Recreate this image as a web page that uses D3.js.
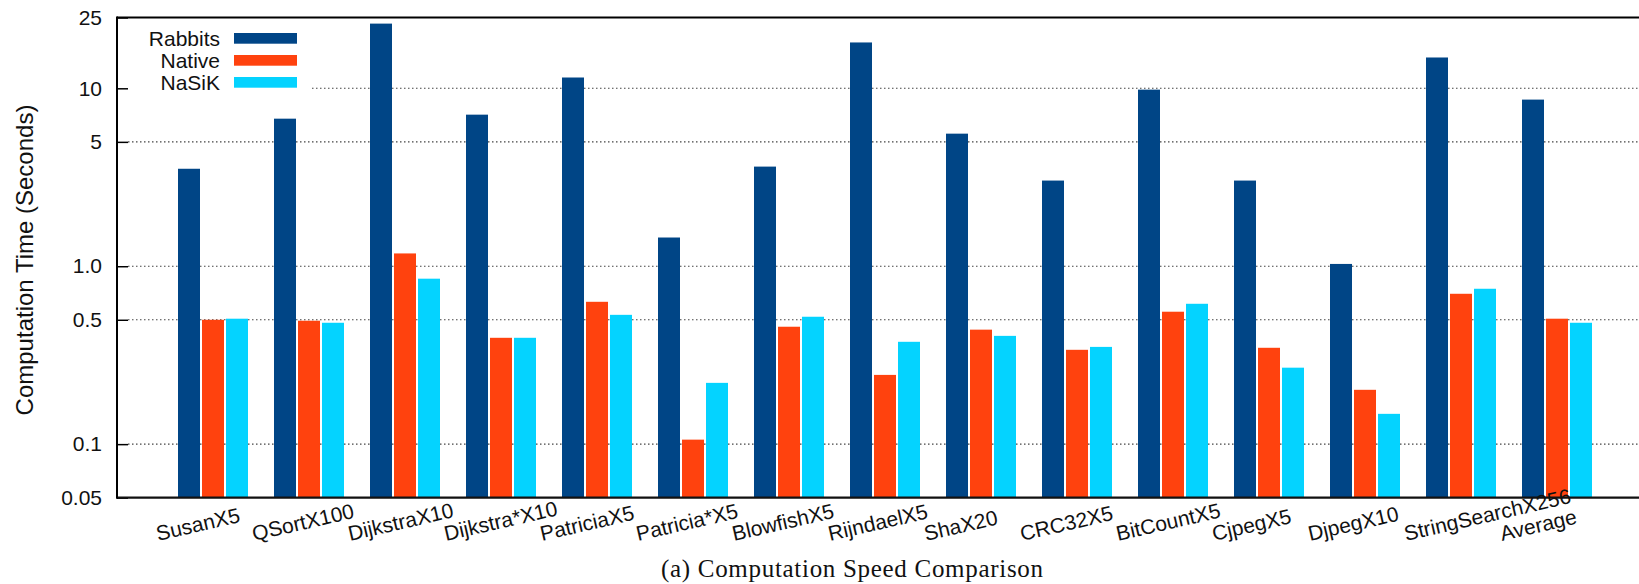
<!DOCTYPE html>
<html>
<head>
<meta charset="utf-8">
<script src="https://cdn.jsdelivr.net/npm/d3@7"></script>
<style>
  html, body { margin: 0; padding: 0; background: #fff; }
  svg { display: block; }
</style>
</head>
<body>
<svg id="chart" width="1639" height="584"></svg>
<script>
const categories = ["SusanX5", "QSortX100", "DijkstraX10", "Dijkstra*X10", "PatriciaX5", "Patricia*X5",
  "BlowfishX5", "RijndaelX5", "ShaX20", "CRC32X5", "BitCountX5", "CjpegX5", "DjpegX10",
  "StringSearchX256", "Average"];
const seriesNames = ["Rabbits", "Native", "NaSiK"];
const rabbits = [3.53, 6.75, 23.1, 7.11, 11.5, 1.45, 3.63, 18.1, 5.56, 3.03, 9.83, 3.03, 1.03, 14.9, 8.64];
const native  = [0.50, 0.494, 1.18, 0.396, 0.631, 0.106, 0.457, 0.245, 0.44, 0.339, 0.555, 0.348, 0.202, 0.70, 0.507];
const nasik   = [0.507, 0.481, 0.851, 0.396, 0.533, 0.221, 0.52, 0.376, 0.406, 0.352, 0.615, 0.269, 0.148, 0.747, 0.481];
const tickValues = [0.05, 0.1, 0.5, 1, 5, 10, 25];
const tickLabels = ["0.05", "0.1", "0.5", "1.0", "5", "10", "25"];
const gridValues = [0.1, 0.5, 1, 5, 10];
const colors = ["#004586", "#ff420e", "#04d3ff"];
const yTitle = "Computation Time (Seconds)";
const caption = "(a)  Computation Speed Comparison";

(function () {
const seriesData = [rabbits, native, nasik];

const svg = d3.select("#chart");
const pL = 117, pT = 17.5, pB = 497.7, pR = 1653;
const font = "'Liberation Sans', Arial, Helvetica, sans-serif";

const y = d3.scaleLog().domain([0.05, 25]).range([pB, pT]);
const x = d3.scalePoint().domain(categories).range([pL, pR]).padding(1);
const xs = d3.scaleBand().domain(seriesNames).range([-35, 35]).paddingInner(1 / 12).paddingOuter(0);

// gridlines
svg.append("g").selectAll("line").data(gridValues).join("line")
  .attr("x1", pL + 11).attr("x2", 1639)
  .attr("y1", d => y(d)).attr("y2", d => y(d))
  .attr("stroke", "#444").attr("stroke-width", 1.1)
  .attr("stroke-dasharray", "1.5,2.5");

// legend background
svg.append("rect").attr("x", pL + 11).attr("y", 22).attr("width", 310 - pL - 11).attr("height", 72)
  .attr("fill", "#fff");

// bars
const groups = svg.append("g").selectAll("g").data(seriesNames).join("g")
  .attr("fill", (d, i) => colors[i]);
groups.selectAll("rect").data((s, si) => categories.map((c, ci) => ({ c, s, v: seriesData[si][ci] })))
  .join("rect")
  .attr("x", d => x(d.c) + xs(d.s))
  .attr("width", xs.bandwidth())
  .attr("y", d => y(d.v))
  .attr("height", d => pB - y(d.v));

// y axis ticks and labels
const yAxis = d3.axisLeft(y).tickValues(tickValues)
  .tickFormat((d, i) => tickLabels[i]).tickSize(-11).tickPadding(15);
const ga = svg.append("g").attr("transform", `translate(${pL},0)`).call(yAxis);
ga.select(".domain").remove();
ga.selectAll(".tick line").attr("stroke", "#000").attr("stroke-width", 1.5);
ga.selectAll(".tick text").attr("font-family", font).attr("font-size", 21).attr("fill", "#111");

// frame lines
svg.append("line").attr("x1", pL).attr("x2", 1639).attr("y1", pT).attr("y2", pT)
  .attr("stroke", "#000").attr("stroke-width", 2);
svg.append("line").attr("x1", pL).attr("x2", 1639).attr("y1", pB).attr("y2", pB)
  .attr("stroke", "#111").attr("stroke-width", 2.2);
svg.append("line").attr("x1", pL).attr("x2", pL).attr("y1", pT - 1).attr("y2", pB + 1)
  .attr("stroke", "#000").attr("stroke-width", 2);

// legend
const lg = svg.append("g").selectAll("g").data(seriesNames).join("g")
  .attr("transform", (d, i) => `translate(0,${i * 22})`);
lg.append("text").attr("x", 220).attr("y", 45.7).attr("text-anchor", "end")
  .attr("font-family", font).attr("font-size", 21).attr("fill", "#111").text(d => d);
lg.append("rect").attr("x", 234).attr("y", 33).attr("width", 63).attr("height", 10.7)
  .attr("fill", (d, i) => colors[i]);

// x labels
svg.append("g").selectAll("text").data(categories).join("text")
  .attr("transform", d => `translate(${x(d) - 55},541) rotate(-13)`)
  .attr("font-family", font).attr("font-size", 21).attr("fill", "#111")
  .attr("text-anchor", "start").text(d => d);

// y title
svg.append("text").attr("transform", "translate(33,260) rotate(-90)")
  .attr("text-anchor", "middle").attr("font-family", font).attr("font-size", 24)
  .attr("fill", "#111").text(yTitle);

// caption
svg.append("text").attr("x", 661).attr("y", 576.5)
  .attr("font-family", "'Liberation Serif', 'Times New Roman', serif").attr("font-size", 25)
  .attr("textLength", 382).attr("lengthAdjust", "spacing")
  .attr("fill", "#111").text(caption);
})();
</script>
</body>
</html>
